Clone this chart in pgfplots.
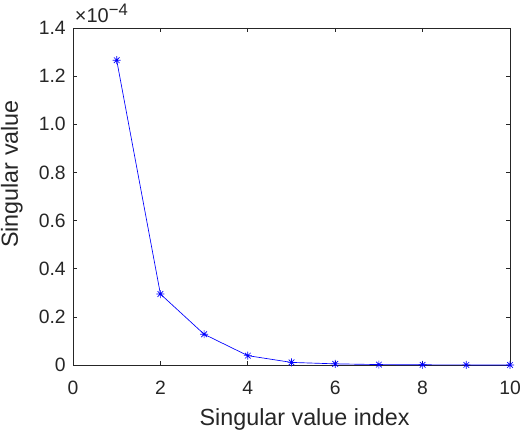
\documentclass[border=0pt]{standalone}
\usepackage{pgfplots}
\pgfplotsset{compat=1.18}
\usepackage{fontspec}
\setmainfont{Liberation Sans}
\definecolor{axgray}{rgb}{0.15,0.15,0.15}
% matlab-style asterisk: + and x on top of each other
\pgfdeclareplotmark{mstar}{%
  \pgfpathmoveto{\pgfqpoint{-\pgfplotmarksize}{0pt}}%
  \pgfpathlineto{\pgfqpoint{\pgfplotmarksize}{0pt}}%
  \pgfpathmoveto{\pgfqpoint{0pt}{-\pgfplotmarksize}}%
  \pgfpathlineto{\pgfqpoint{0pt}{\pgfplotmarksize}}%
  \pgfpathmoveto{\pgfqpoint{-0.707\pgfplotmarksize}{-0.707\pgfplotmarksize}}%
  \pgfpathlineto{\pgfqpoint{0.707\pgfplotmarksize}{0.707\pgfplotmarksize}}%
  \pgfpathmoveto{\pgfqpoint{-0.707\pgfplotmarksize}{0.707\pgfplotmarksize}}%
  \pgfpathlineto{\pgfqpoint{0.707\pgfplotmarksize}{-0.707\pgfplotmarksize}}%
  \pgfusepathqstroke}
\begin{document}
\begin{tikzpicture}
\begin{axis}[
    scale only axis,
    width=328pt, height=253pt,
    xmin=0, xmax=10,
    ymin=0, ymax=1.4e-4,
    xtick={0,2,4,6,8,10},
    ytick={0,0.2e-4,0.4e-4,0.6e-4,0.8e-4,1.0e-4,1.2e-4,1.4e-4},
    yticklabels={0,0.2,0.4,0.6,0.8,1.0,1.2,1.4},
    scaled y ticks=false,
    /pgf/number format/assume math mode=true,
    tick align=inside,
    major tick length=3.3pt,
    axis line style={draw=axgray, line width=0.5pt},
    tick style={draw=axgray, line width=0.5pt},
    ticklabel style={font=\fontsize{14.5}{17}\selectfont, text=axgray},
    xticklabel style={anchor=base, yshift=-21.8pt},
    yticklabel style={xshift=-2pt},
    label style={font=\fontsize{17.5}{21}\selectfont, text=axgray},
    xlabel={Singular value index},
    ylabel={Singular value},
    xlabel style={at={([yshift=-45pt]rel axis cs:0.53,0)}, anchor=base},
    ylabel style={at={([xshift=-41.3pt]rel axis cs:0,0.567)}, anchor=base},
    clip=false,
]
\addplot[blue, line width=0.5pt, mark=mstar, mark size=3pt,
    mark options={solid}]
    coordinates {
    (1,1.266e-4)
    (2,0.295e-4)
    (3,0.128e-4)
    (4,0.039e-4)
    (5,0.011e-4)
    (6,0.005e-4)
    (7,0.002e-4)
    (8,0.001e-4)
    (9,0.0006e-4)
    (10,0.0003e-4)
    };
\node[anchor=base west, inner sep=0pt, text=axgray,
    font=\fontsize{15}{17}\selectfont]
    at ([xshift=1.2pt,yshift=3.8pt]rel axis cs:0,1) {×10\raisebox{0.72ex}{\fontsize{12.5}{14}\selectfont −4}};
\coordinate (bl) at ([xshift=-54.8pt,yshift=-49.5pt]rel axis cs:0,0);
\coordinate (tr) at ([xshift=7.5pt,yshift=21pt]rel axis cs:1,1);
\end{axis}
\pgfresetboundingbox
\useasboundingbox (bl) rectangle (tr);
\end{tikzpicture}
\end{document}
